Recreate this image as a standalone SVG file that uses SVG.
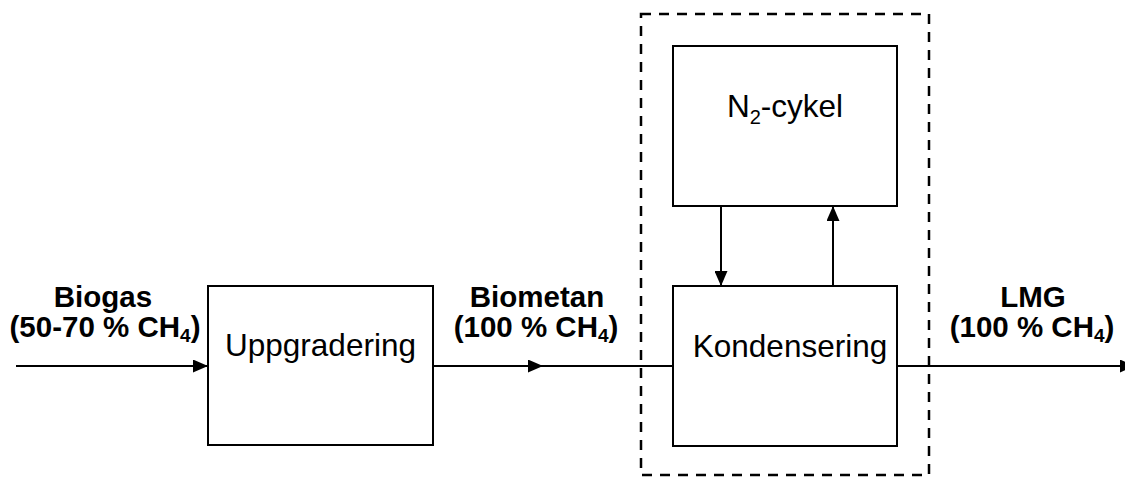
<svg xmlns="http://www.w3.org/2000/svg" width="1125" height="477" viewBox="0 0 1125 477">
<style>
.box{fill:#fff;stroke:#000;stroke-width:2}
.lbl{font-family:"Liberation Sans",Arial,sans-serif;font-size:31.5px;fill:#000;text-anchor:middle}
.bold{font-family:"Liberation Sans",Arial,sans-serif;font-size:29.5px;font-weight:bold;fill:#000;text-anchor:middle}
.ln{stroke:#000;stroke-width:2;fill:none}
.dash{fill:none;stroke:#000;stroke-width:2.5;stroke-dasharray:10 8}
</style>
<defs>
<marker id="ah" viewBox="0 0 15 13" refX="15" refY="6.5" markerWidth="15" markerHeight="13" markerUnits="userSpaceOnUse" orient="auto">
<path d="M0,0 L15,6.5 L0,13 Z" fill="#000"/>
</marker>
</defs>
<rect class="dash" x="641" y="14" width="288" height="461"/>
<g id="connectors">
<line class="ln" x1="16" y1="366" x2="208" y2="366" marker-end="url(#ah)"/>
<line class="ln" x1="433" y1="366" x2="543" y2="366" marker-end="url(#ah)"/>
<line class="ln" x1="540" y1="366" x2="673" y2="366"/>
<line class="ln" x1="897" y1="366" x2="1135" y2="366" marker-end="url(#ah)"/>
<line class="ln" x1="721" y1="206" x2="721" y2="286" marker-end="url(#ah)"/>
<line class="ln" x1="833" y1="286" x2="833" y2="206" marker-end="url(#ah)"/>
</g>
<g id="uppgradering">
<rect class="box" x="208" y="286" width="225" height="159"/>
<text class="lbl" x="320.5" y="356">Uppgradering</text>
</g>
<g id="n2cykel">
<rect class="box" x="673" y="46" width="224" height="160"/>
<text class="lbl" x="785" y="117">N<tspan font-size="20" dy="7">2</tspan><tspan dy="-7">-cykel</tspan></text>
</g>
<g id="kondensering">
<rect class="box" x="673" y="286" width="224" height="160"/>
<text class="lbl" x="790" y="357">Kondensering</text>
</g>
<g id="labels">
<text class="bold" x="103" y="307">Biogas</text>
<text class="bold" x="105" y="337">(50-70 % CH<tspan font-size="19" dy="5">4</tspan><tspan dy="-5">)</tspan></text>
<text class="bold" x="537" y="307">Biometan</text>
<text class="bold" x="536" y="337">(100 % CH<tspan font-size="19" dy="5">4</tspan><tspan dy="-5">)</tspan></text>
<text class="bold" x="1033" y="307">LMG</text>
<text class="bold" x="1032" y="337">(100 % CH<tspan font-size="19" dy="5">4</tspan><tspan dy="-5">)</tspan></text>
</g>
</svg>
